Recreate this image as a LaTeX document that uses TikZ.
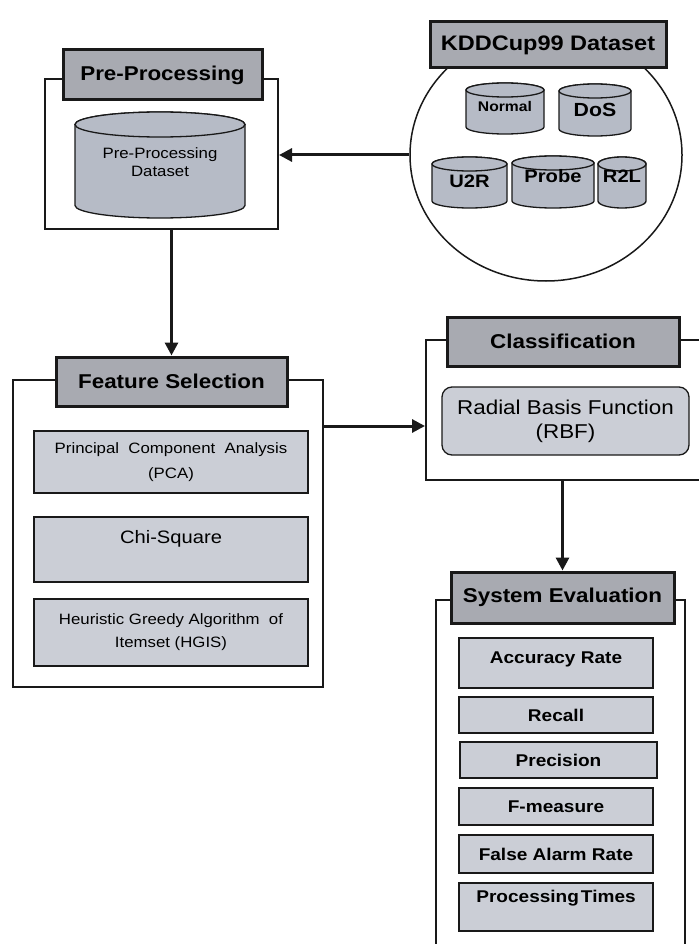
\documentclass[tikz,border=0pt]{standalone}
\usepackage{fontspec}
\setmainfont{Liberation Sans}[FakeStretch=1.12]
\usetikzlibrary{arrows.meta,shapes.geometric}

\definecolor{headgray}{RGB}{168,170,177}
\definecolor{druml}{RGB}{182,187,198}
\definecolor{itemgray}{RGB}{203,206,214}
\definecolor{inkline}{RGB}{25,25,25}

\tikzset{
  headbox/.style={draw=inkline, line width=3pt, fill=headgray, inner sep=0pt,
    font=\fontsize{20}{22}\selectfont\bfseries},
  outerbox/.style={draw=inkline, line width=2pt, inner sep=0pt},
  itembox/.style={draw=inkline, line width=1.3pt, fill=itemgray, inner sep=0pt, align=center},
  evalbox/.style={itembox, minimum width=194pt, font=\fontsize{17}{19}\selectfont\bfseries},
  drum/.style={draw=inkline, line width=1.3pt, fill=druml},
  flow/.style={draw=inkline, line width=3pt, -{Triangle[length=13pt,width=13pt]}},
}

% database drum: name, x1, y1, x2, y2, ellipse radius, font, text, text y
\newcommand{\dbdrum}[9]{%
  \pgfmathsetmacro{\dcx}{(#2+#4)/2}%
  \pgfmathsetmacro{\drx}{(#4-#2)/2}%
  \draw[drum] ({#2},{#3+#6}) -- ({#2},{#5-#6})
    arc[start angle=180, end angle=0, x radius=\drx, y radius=#6]
    -- ({#4},{#3+#6})
    arc[start angle=0, end angle=-180, x radius=\drx, y radius=#6] -- cycle;
  \draw[drum] (\dcx,{#3+#6}) ellipse[x radius=\drx, y radius=#6];
  \node[font=#7, align=center, inner sep=0pt] (#1) at (\dcx,#9) {#8};
}

\begin{document}
\begin{tikzpicture}[x=1pt, y=-1pt]
\useasboundingbox (0,0) rectangle (698,944);

% ---------------- KDDCup99 dataset ----------------
\node[draw=inkline, line width=1.5pt, ellipse, minimum width=272pt, minimum height=252pt, inner sep=0pt] (kdd) at (546,155) {};
\node[headbox, minimum width=236pt, minimum height=46pt, font=\fontsize{21}{23}\selectfont\bfseries] (kddt) at (548,45) {KDDCup99 Dataset};
\dbdrum{normal}{466}{83}{544}{134}{7}{\fontsize{14}{16}\selectfont\bfseries}{Normal}{106}
\dbdrum{dos}{559}{84}{631}{136}{7}{\fontsize{19}{21}\selectfont\bfseries}{DoS}{110}
\dbdrum{utr}{432}{157}{507}{208}{7}{\fontsize{18}{20}\selectfont\bfseries}{U2R}{181}
\dbdrum{probe}{512}{156}{594}{208}{7}{\fontsize{18}{20}\selectfont\bfseries}{Probe}{176}
\dbdrum{rtl}{598}{157}{646}{208}{7}{\fontsize{18}{20}\selectfont\bfseries}{R2L}{176}

% ---------------- Pre-processing ----------------
\node[outerbox, minimum width=233pt, minimum height=150pt] (pre) at (161.5,154) {};
\node[headbox, minimum width=199pt, minimum height=50pt] (pret) at (162.5,75) {Pre-Processing};
\dbdrum{predb}{75}{112}{245}{218}{12.5}{\fontsize{15}{18}\selectfont}{Pre-Processing\\Dataset}{162}

% ---------------- Feature selection ----------------
\node[outerbox, minimum width=310pt, minimum height=307pt] (fs) at (168,533.5) {};
\node[headbox, minimum width=231pt, minimum height=49pt] (fst) at (171.5,381.5) {Feature Selection};
\node[itembox, minimum width=274pt, minimum height=62pt, font=\fontsize{15}{25}\selectfont] (pca) at (171,462)
  {Principal\ \ Component\ \ Analysis\\(PCA)};
\node[itembox, minimum width=274pt, minimum height=65pt, font=\fontsize{18}{20}\selectfont] (chi) at (171,549.5)
  {\raisebox{26pt}{Chi-Square}};
\node[itembox, minimum width=274pt, minimum height=67pt, font=\fontsize{15}{23}\selectfont] (hgis) at (171,632.5)
  {Heuristic Greedy Algorithm\ \ of\\Itemset (HGIS)};

% ---------------- Classification ----------------
\node[outerbox, minimum width=294pt, minimum height=140pt] (cls) at (573,410) {};
\node[headbox, minimum width=232pt, minimum height=49pt] (clst) at (563,341.5) {Classification};
\node[itembox, rounded corners=10pt, minimum width=247pt, minimum height=68pt, font=\fontsize{20}{24}\selectfont] (rbf) at (565.5,421)
  {Radial Basis Function\\(RBF)};

% ---------------- System evaluation ----------------
\node[outerbox, minimum width=249pt, minimum height=360pt] (se) at (560.5,780) {};
\node[headbox, minimum width=223pt, minimum height=51pt] (set) at (562.5,597.5) {System Evaluation};
\node[evalbox, minimum height=50pt] (acc) at (556,663) {\raisebox{11pt}{Accuracy Rate}};
\node[evalbox, minimum height=36pt] (rec) at (556,715) {Recall};
\node[evalbox, minimum width=197pt, minimum height=36pt] (prec) at (558.5,760) {Precision};
\node[evalbox, minimum height=37pt] (fmeas) at (556,806.5) {F-measure};
\node[evalbox, minimum height=38pt] (far) at (556,854) {False Alarm Rate};
\node[evalbox, minimum height=48pt] (ptime) at (556,907) {\raisebox{22pt}{Processing\hspace{2pt}Times}};

% ---------------- Flow connectors ----------------
\draw[flow] (kdd.west) -- (kdd.west -| pre.east);
\draw[flow] (fst.north |- pre.south) -- (fst.north);
\draw[flow] (fs.east |- 0,426) -- (cls.west |- 0,426);
\draw[flow] (set.north |- cls.south) -- (set.north);
\end{tikzpicture}
\end{document}
